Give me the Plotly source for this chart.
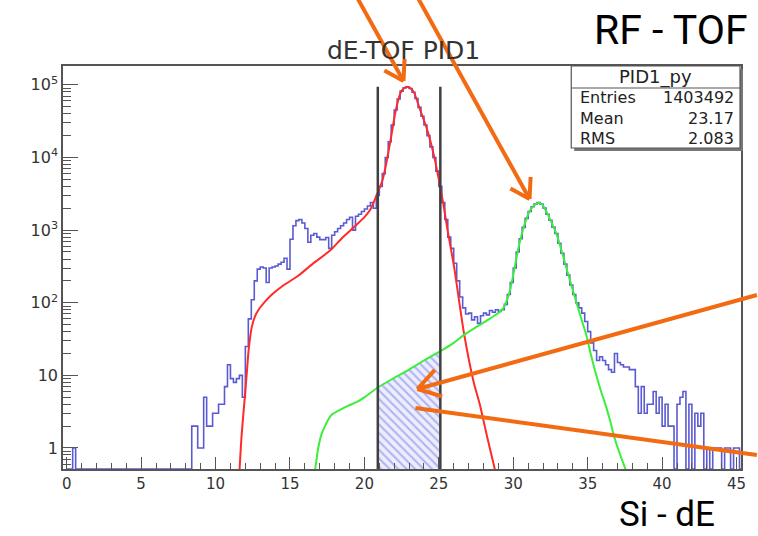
import math
import numpy as np
import plotly.graph_objects as go

# ---------------- data ----------------
# PID1_py histogram: uniform 0.2-wide bins starting at 0
bin_lo = 0.0
bin_w = 0.2
counts = [
    # 0.0 - 8.2
    0, 0, 1, 0, 0, 0, 0, 0, 0, 0,
    0, 0, 0, 0, 0, 0, 0, 0, 0, 0,
    0, 0, 0, 0, 0, 0, 0, 0, 0, 0,
    0, 0, 0, 0, 0, 0, 0, 0, 0, 0,
    0, 0,
    # 8.4 - 20.8
    2, 2, 1, 1, 5, 2, 2, 3, 3, 4,
    4, 7, 14, 9, 8, 9, 10, 5, 25, 60,
    110, 200, 290, 310, 300, 190, 300, 310, 320, 340,
    360, 410, 290, 750, 1150, 1350, 1400, 1250, 1050, 680,
    850, 900, 800, 740, 740, 790, 560, 850, 950, 1050,
    1150, 1250, 1400, 1500, 1000, 1550, 1650, 1800, 1950, 2150,
    2400, 2000, 3000,
    # 21.0 - 33.4
    4000, 6000, 10000, 16500, 28000, 45000, 64000, 82000, 91000, 94000,
    89000, 79000, 65000, 49000, 37000, 28000, 20000, 14000, 10000, 6500,
    4000, 2400, 1400, 800, 560, 350, 200, 120, 85, 70,
    72, 58, 64, 52, 66, 72, 68, 78, 74, 80,
    76, 80, 95, 130, 190, 300, 500, 760, 1090, 1450,
    1800, 2100, 2280, 2400, 2280, 2020, 1650, 1370, 1100, 900,
    660, 480, 340,
    # 33.6 - 45.2
    240, 175, 130, 100, 85, 72, 55, 40, 28, 22,
    16, 18, 16, 14, 12, 11, 20, 15, 14, 13,
    13, 12, 12, 7, 3, 7, 3, 4, 4, 6,
    3, 5, 2, 4, 2, 2, 0, 4, 5, 6,
    0, 4, 0, 3, 2, 3, 0, 1, 0, 1,
    1, 1, 0, 1, 1, 0, 1, 1, 0,
]

# fit of the first peak (Gaussian + background), sampled points
red_x = [11.55, 11.75, 11.95, 12.1, 12.22, 12.42, 12.65, 12.89, 13.35, 13.75,
         14.5, 15.55, 16.5, 17.75, 18.5, 19.3, 20.02, 20.42, 20.9, 21.22,
         21.42, 21.75, 22.09, 22.42, 22.65, 22.89, 23.12, 23.35, 23.75, 24.22,
         24.69, 25.09, 25.35, 25.55, 26.02, 26.69, 27.35, 27.75, 28.22, 28.75,
         28.95]
red_y = [0.3, 1.5, 4.6, 11, 22, 45, 65, 80, 105, 128,
         170, 235, 340, 535, 780, 1100, 1520, 1950, 3300, 4900,
         7400, 17000, 43000, 77000, 90000, 94000, 89000, 77000, 45000, 24000,
         10200, 3960, 2000, 1100, 316, 38, 7.9, 4.0, 1.5, 0.52,
         0.35]

# fit of the second peak (Gaussian + background), sampled points
green_x = [16.6, 16.69, 16.9, 17.1, 17.35, 17.75, 18.3, 18.89, 19.5, 20.02,
           20.9, 22.0, 23.0, 24.0, 25.1, 26.0, 26.69, 27.5, 28.3, 29.0,
           29.35, 29.75, 30.0, 30.22, 30.45, 30.69, 30.9, 31.09, 31.35, 31.69,
           31.95, 32.22, 32.55, 32.89, 33.2, 33.55, 33.9, 34.22, 34.55, 34.89,
           35.2, 35.55, 35.9, 36.22, 36.5, 36.75, 37.1, 37.55, 37.8]
green_y = [0.35, 0.5, 1.0, 1.5, 2.0, 2.8, 3.3, 3.8, 4.3, 5.0,
           6.8, 9.2, 12, 16, 21.5, 28, 36, 46, 58, 72,
           85, 140, 240, 420, 700, 1080, 1450, 1800, 2150, 2360,
           2250, 1800, 1300, 900, 560, 310, 175, 105, 62, 37,
           20, 10.5, 6.0, 3.8, 2.4, 1.5, 0.9, 0.5, 0.35]

# PID gate
cut_lo, cut_hi = 20.9, 25.1

# statistics box
stats_name = "PID1_py"
stats_rows = [("Entries", "1403492"), ("Mean", "23.17"), ("RMS", "2.083")]

x_major = [0, 5, 10, 15, 20, 25, 30, 35, 40, 45]
y_major = [1, 10, 100, 1000, 10000, 100000]
y_major_text = ["1", "10", "10<sup>2</sup>", "10<sup>3</sup>", "10<sup>4</sup>", "10<sup>5</sup>"]

# ---------------- geometry / style ----------------
W, H = 758, 536
M_L, M_R, M_T, M_B = 63, 12, 66, 67
PW, PH = W - M_L - M_R, H - M_T - M_B
X_RANGE = [-0.25, 45.3]
Y_RANGE = [-0.29, 5.26]          # log10
y_floor = 10 ** Y_RANGE[0]

AX_COL = "#555555"
TXT_COL = "#333333"
ORANGE = "#F26B12"
FONT = "DejaVu Sans"


def px(xp, yp):
    """pixel position -> paper coordinates"""
    return (xp - M_L) / PW, (M_T + PH - yp) / PH


fig = go.Figure()

# hatched area under the green fit inside the gate
gx = np.array(green_x)
gy = np.array(green_y)
sel = (gx >= cut_lo) & (gx <= cut_hi)
poly_x = list(gx[sel]) + [cut_hi, cut_lo]
poly_y = list(gy[sel]) + [y_floor, y_floor]
fig.add_trace(go.Scatter(
    x=poly_x, y=poly_y, mode="lines", line=dict(width=0),
    fill="toself", fillcolor="rgba(228,230,255,1)",
    fillpattern=dict(shape="\\", fgcolor="#7278de", bgcolor="rgba(236,238,255,1)",
                     size=6, solidity=0.35),
    hoverinfo="skip", showlegend=False))

# histogram as steps
c = np.array(counts, dtype=float)
edges = bin_lo + bin_w * np.arange(len(c) + 1)
shown = np.where(c > 0, c, y_floor)
fig.add_trace(go.Scatter(
    x=edges, y=np.append(shown, shown[-1]), mode="lines",
    line=dict(color="#5a5ad2", width=1.6, shape="hv"),
    showlegend=False, hoverinfo="skip"))

# fits
fig.add_trace(go.Scatter(x=red_x, y=red_y, mode="lines",
                         line=dict(color="#ff2b2b", width=2, shape="spline", smoothing=0.6),
                         showlegend=False, hoverinfo="skip"))
fig.add_trace(go.Scatter(x=green_x, y=green_y, mode="lines",
                         line=dict(color="#3cee3c", width=2, shape="spline", smoothing=0.6),
                         showlegend=False, hoverinfo="skip"))

# gate lines, up to the histogram maximum
for xc in (cut_lo, cut_hi):
    fig.add_trace(go.Scatter(x=[xc, xc], y=[y_floor, c.max()], mode="lines",
                             line=dict(color="#404040", width=2.5),
                             showlegend=False, hoverinfo="skip"))

x_minor = [v for v in range(0, 46) if v % 5]
y_minor = [m * 10 ** e for e in range(-1, 6) for m in range(2, 10)
           if Y_RANGE[0] <= math.log10(m * 10 ** e) <= Y_RANGE[1]]

fig.update_xaxes(
    range=X_RANGE, showgrid=False, zeroline=False,
    showline=True, mirror=True, linecolor=AX_COL, linewidth=1.5,
    tickmode="array", tickvals=x_major, ticks="inside", ticklen=12,
    tickwidth=1.2, tickcolor=AX_COL,
    tickfont=dict(family=FONT, size=15, color=TXT_COL),
    minor=dict(tickmode="array", tickvals=x_minor, ticks="inside",
               ticklen=6, tickwidth=1.2, tickcolor=AX_COL, showgrid=False),
)
fig.update_yaxes(
    type="log", range=Y_RANGE, showgrid=False, zeroline=False,
    showline=True, mirror=True, linecolor=AX_COL, linewidth=1.5,
    tickmode="array", tickvals=y_major, ticktext=y_major_text,
    ticks="inside", ticklen=15, tickwidth=1.2, tickcolor=AX_COL,
    tickfont=dict(family=FONT, size=16, color=TXT_COL),
    minor=dict(tickmode="array", tickvals=y_minor, ticks="inside",
               ticklen=8, tickwidth=1.2, tickcolor=AX_COL, showgrid=False),
)

shapes = []
annotations = []

# statistics box with shadow
bx0, by0, bx1, by1 = 575, 66, 745, 148
sx0, sy0 = px(bx0 + 3, by1 + 3)
sx1, sy1 = px(bx1 + 3, by0 + 3)
shapes.append(dict(type="rect", xref="paper", yref="paper", x0=sx0, y0=sy0, x1=sx1, y1=sy1,
                   fillcolor="#777777", line=dict(width=0), layer="above"))
ax0, ay0 = px(bx0, by1)
ax1, ay1 = px(bx1, by0)
shapes.append(dict(type="rect", xref="paper", yref="paper", x0=ax0, y0=ay0, x1=ax1, y1=ay1,
                   fillcolor="white", line=dict(color=AX_COL, width=1.2), layer="above"))
lx0, ly = px(bx0, 88)
lx1, _ = px(bx1, 88)
shapes.append(dict(type="line", xref="paper", yref="paper", x0=lx0, y0=ly, x1=lx1, y1=ly,
                   line=dict(color=AX_COL, width=1.2), layer="above"))

hx, hy = px((bx0 + bx1) / 2, 77)
annotations.append(dict(x=hx, y=hy, xref="paper", yref="paper", text=stats_name,
                        showarrow=False, xanchor="center", yanchor="middle",
                        font=dict(family=FONT, size=18, color="#222")))
for i, (lab, val) in enumerate(stats_rows):
    yy = 98 + 20 * i
    lxp, lyp = px(bx0 + 7, yy)
    rxp, _ = px(bx1 - 4, yy)
    annotations.append(dict(x=lxp, y=lyp, xref="paper", yref="paper", text=lab,
                            showarrow=False, xanchor="left", yanchor="middle",
                            font=dict(family=FONT, size=16, color="#222")))
    annotations.append(dict(x=rxp, y=lyp, xref="paper", yref="paper", text=val,
                            showarrow=False, xanchor="right", yanchor="middle",
                            font=dict(family=FONT, size=16, color="#222")))

# titles and labels
tx, ty = px(406, 51)
annotations.append(dict(x=tx, y=ty, xref="paper", yref="paper", text="dE-TOF PID1",
                        showarrow=False, xanchor="center", yanchor="middle",
                        font=dict(family=FONT, size=25, color=TXT_COL)))
rx, ry = px(675, 30)
annotations.append(dict(x=rx, y=ry, xref="paper", yref="paper", text="RF - TOF",
                        showarrow=False, xanchor="center", yanchor="middle",
                        font=dict(family="Roboto", size=41, color="black")))
sx, sy = px(671, 536)
annotations.append(dict(x=sx, y=sy, xref="paper", yref="paper", text="Si - dE",
                        showarrow=False, xanchor="center", yanchor="bottom",
                        borderpad=0,
                        font=dict(family="Roboto", size=35, color="black")))


def arrow(x0, y0, x1, y1, head=True, hl=22):
    a = dict(type="line", xref="paper", yref="paper", layer="above",
             line=dict(color=ORANGE, width=4))
    p0, p1 = px(x0, y0), px(x1, y1)
    shapes.append(dict(a, x0=p0[0], y0=p0[1], x1=p1[0], y1=p1[1]))
    if head:
        ang = math.atan2(y1 - y0, x1 - x0)
        for s in (1, -1):
            b = ang + math.pi + s * math.radians(32)
            q = px(x1 + hl * math.cos(b), y1 + hl * math.sin(b))
            shapes.append(dict(a, x0=p1[0], y0=p1[1], x1=q[0], y1=q[1]))


arrow(359, -3, 406, 81)
arrow(420, -3, 533, 199)
arrow(762, 295, 420, 389, hl=26)
arrow(418, 408, 762, 455, head=False)

fig.update_layout(
    width=W, height=H,
    margin=dict(l=M_L, r=M_R, t=M_T, b=M_B),
    paper_bgcolor="white", plot_bgcolor="white",
    shapes=shapes, annotations=annotations,
    showlegend=False,
)

fig.write_html("out.html")
